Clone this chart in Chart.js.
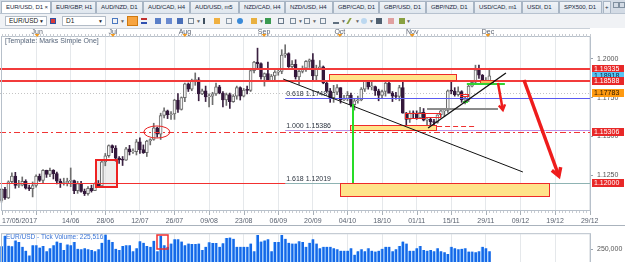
<!DOCTYPE html>
<html>
<head>
<meta charset="utf-8">
<title>EUR/USD, D1</title>
<script src="https://cdn.jsdelivr.net/npm/chart.js@4.4.1/dist/chart.umd.min.js"></script>
<style>
  body { margin: 0; width: 625px; height: 262px; overflow: hidden; background: #fff;
         font-family: "Liberation Sans", Arial, sans-serif; position: relative; }
  #tabs { position: absolute; left: 0; top: 0; width: 625px; height: 13px; background: #d3dbe5; }
  .tab { position: absolute; top: 1px; height: 12px; box-sizing: border-box; padding-left: 4px;
         font-size: 6px; line-height: 11px; color: #1a2a3e; white-space: nowrap; letter-spacing: -0.1px;
         background: linear-gradient(#f0f3f7, #dfe6ee); border: 1px solid #a8b5c4; border-bottom: none; }
  .tab.sel { background: #fff; }
  #toolbar { position: absolute; left: 0; top: 13px; width: 625px; height: 15px; background: #f0f2f5;
             border-top: 1px solid #b7c2cf; box-sizing: border-box; }
  .combo { position: absolute; top: 2px; height: 10px; box-sizing: border-box; border: 1px solid #b3bcc7;
           background: #fff; font-size: 6.5px; line-height: 8px; padding-left: 3px; color: #222; }
  .combo b { position: absolute; right: 2px; top: 0; font-size: 5px; font-weight: normal; }
  .ico { position: absolute; top: 4px; width: 6px; height: 6px; box-sizing: border-box; }
  .dd { position: absolute; top: 4px; font-size: 5px; color: #666; }
  #main { position: absolute; left: 0; top: 28px; }
  #vol { position: absolute; left: 0; top: 226px; }
</style>
</head>
<body>
<div id="tabs">
  <div class="tab sel" style="left:1px;width:50px">EUR/USD, D1 &times;</div>
  <div class="tab" style="left:51px;width:45px">EUR/GBP, H1</div>
  <div class="tab" style="left:96px;width:47px">AUD/NZD, D1</div>
  <div class="tab" style="left:143px;width:47px">AUD/CAD, H4</div>
  <div class="tab" style="left:190px;width:49px">AUD/USD, m5</div>
  <div class="tab" style="left:239px;width:46px">NZD/CAD, H4</div>
  <div class="tab" style="left:285px;width:48px">NZD/USD, H4</div>
  <div class="tab" style="left:333px;width:46px">GBP/CAD, D1</div>
  <div class="tab" style="left:379px;width:47px">GBP/USD, D1</div>
  <div class="tab" style="left:426px;width:48px">GBP/NZD, D1</div>
  <div class="tab" style="left:474px;width:48px">USD/CAD, m1</div>
  <div class="tab" style="left:522px;width:37px">USDI, D1</div>
  <div class="tab" style="left:559px;width:43px">SPX500, D1</div>
  <div class="tab" style="left:603px;width:8px;padding-left:1px">+</div>
  <div style="position:absolute;left:613px;top:2px;width:4px;height:4px;border:1px solid #8090a0"></div>
  <div style="position:absolute;left:619px;top:2px;width:4px;height:4px;border:1px solid #8090a0"></div>
</div>
<div id="toolbar">
  <div class="combo" style="left:5px;width:42px">EUR/USD<b>&#9660;</b></div>
  <div class="ico" style="left:50px;background:#d83a3a;border:1px solid #3050a0"></div>
  <div class="combo" style="left:62px;width:44px">D1<b>&#9660;</b></div>
  <div class="ico" style="left:112px;border:1px solid #4a78c0"></div><span class="dd" style="left:120px">&#9660;</span>
  <div style="position:absolute;left:127px;top:2px;width:11px;height:10px;background:#f7a440;border:1px solid #d07a10;box-sizing:border-box"></div>
  <div class="ico" style="left:141px;border-top:2px solid #c03030;border-bottom:2px solid #3050b0"></div>
  <div class="ico" style="left:155px;background:#5a7fc8"></div>
  <div class="ico" style="left:166px;background:#6a8ad0"></div>
  <div class="ico" style="left:177px;background:#4a6fb8"></div>
  <div class="ico" style="left:188px;border:1px solid #7a8a9a"></div><span class="dd" style="left:196px">&#9660;</span>
  <div class="ico" style="left:203px;border-left:2px solid #405060"></div>
  <div class="ico" style="left:214px;background:#f0b040"></div>
  <div class="ico" style="left:226px;border:1px solid #8a9aaa"></div>
  <div class="ico" style="left:237px;background:#3a8ad8;border-radius:3px"></div>
  <div class="ico" style="left:251px;background:#e8b040"></div><span class="dd" style="left:259px">&#9660;</span>
  <div class="ico" style="left:265px;background:#3a9a50"></div>
  <div class="ico" style="left:278px;border:1px solid #6a7a8a"></div>
  <div class="ico" style="left:290px;border:1px solid #7a8a9a"></div><span class="dd" style="left:298px">&#9660;</span>
  <div class="ico" style="left:304px;border:1px solid #7a8a9a"></div><span class="dd" style="left:312px">&#9660;</span>
  <div class="ico" style="left:320px;border:1px solid #7a8a9a"></div>
  <div class="ico" style="left:333px;border-bottom:2px solid #607080"></div><span class="dd" style="left:341px">&#9660;</span>
  <div class="ico" style="left:348px;border-left:2px solid #8aa040;transform:skewX(-30deg)"></div><span class="dd" style="left:355px">&#9660;</span>
  <div class="ico" style="left:361px;background:#bcd8f0;border-radius:3px"></div><span class="dd" style="left:369px">&#9660;</span>
  <div class="ico" style="left:376px;background:#506070"></div>
  <div class="ico" style="left:388px;background:#e0a0a0"></div>
  <div class="ico" style="left:399px;background:#88a040"></div><span class="dd" style="left:406px">&#9660;</span>
</div>
<canvas id="main" width="625" height="198"></canvas>
<canvas id="vol" width="625" height="50"></canvas>
<script>
Chart.defaults.font.family = '"Liberation Sans", Arial, sans-serif';

// EUR/USD daily candles, 17/05/2017 .. 30/11/2017 (index 0 .. 141)
var opens = [
  1.1087, 1.1158, 1.1102, 1.1207, 1.1243, 1.1183, 1.1185, 1.1210, 1.1165, 1.1163,
  1.1183, 1.1243, 1.1215, 1.1280, 1.1255, 1.1280, 1.1260, 1.1210, 1.1195, 1.1200,
  1.1210, 1.1215, 1.1150, 1.1195, 1.1145, 1.1130, 1.1165, 1.1150, 1.1195, 1.1180,
  1.1335, 1.1375, 1.1440, 1.1425, 1.1360, 1.1350, 1.1347, 1.1420, 1.1400, 1.1402,
  1.1465, 1.1415, 1.1395, 1.1470, 1.1480, 1.1555, 1.1515, 1.1635, 1.1665, 1.1640,
  1.1645, 1.1735, 1.1675, 1.1750, 1.1840, 1.1805, 1.1860, 1.1865, 1.1775, 1.1795,
  1.1755, 1.1760, 1.1775, 1.1820, 1.1780, 1.1735, 1.1770, 1.1725, 1.1760, 1.1815,
  1.1760, 1.1800, 1.1797, 1.1925, 1.1980, 1.1970, 1.1885, 1.1905, 1.1860, 1.1890,
  1.1915, 1.1920, 1.2025, 1.2035, 1.1950, 1.1965, 1.1885, 1.1920, 1.1940, 1.1985,
  1.1995, 1.1890, 1.1940, 1.1950, 1.1845, 1.1795, 1.1750, 1.1785, 1.1815, 1.1735,
  1.1745, 1.1765, 1.1705, 1.1730, 1.1735, 1.1805, 1.1860, 1.1820, 1.1822, 1.1795,
  1.1765, 1.1790, 1.1845, 1.1780, 1.1760, 1.1758, 1.1815, 1.1650, 1.1610, 1.1650,
  1.1645, 1.1620, 1.1655, 1.1605, 1.1610, 1.1595, 1.1590, 1.1640, 1.1665, 1.1668,
  1.1795, 1.1792, 1.1770, 1.1790, 1.1735, 1.1738, 1.1825, 1.1850, 1.1930, 1.1895,
  1.1845, 1.1848
];
var highs = [
  1.1164, 1.1171, 1.1213, 1.1264, 1.1268, 1.1216, 1.1238, 1.1220, 1.1185, 1.1206,
  1.1251, 1.1257, 1.1285, 1.1282, 1.1296, 1.1285, 1.1270, 1.1225, 1.1230, 1.1230,
  1.1296, 1.1218, 1.1210, 1.1210, 1.1160, 1.1175, 1.1185, 1.1200, 1.1215, 1.1345,
  1.1390, 1.1445, 1.1445, 1.1440, 1.1370, 1.1370, 1.1430, 1.1442, 1.1420, 1.1480,
  1.1490, 1.1445, 1.1475, 1.1485, 1.1585, 1.1560, 1.1650, 1.1685, 1.1670, 1.1660,
  1.1740, 1.1777, 1.1755, 1.1845, 1.1845, 1.1870, 1.1910, 1.1880, 1.1805, 1.1825,
  1.1775, 1.1785, 1.1845, 1.1830, 1.1790, 1.1780, 1.1780, 1.1770, 1.1825, 1.1820,
  1.1810, 1.1825, 1.1940, 1.1985, 1.2070, 1.1975, 1.1910, 1.1980, 1.1900, 1.1925,
  1.1935, 1.2060, 1.2092, 1.2040, 1.1990, 1.1995, 1.1930, 1.1955, 1.1990, 1.2000,
  1.2035, 1.1960, 1.1990, 1.1955, 1.1860, 1.1810, 1.1830, 1.1835, 1.1815, 1.1765,
  1.1790, 1.1780, 1.1745, 1.1760, 1.1815, 1.1875, 1.1880, 1.1860, 1.1825, 1.1805,
  1.1800, 1.1860, 1.1850, 1.1790, 1.1785, 1.1830, 1.1880, 1.1655, 1.1665, 1.1665,
  1.1665, 1.1688, 1.1680, 1.1615, 1.1620, 1.1610, 1.1640, 1.1670, 1.1670, 1.1800,
  1.1860, 1.1815, 1.1820, 1.1795, 1.1755, 1.1830, 1.1860, 1.1960, 1.1960, 1.1900,
  1.1880, 1.1940
];
var lows = [
  1.1075, 1.1093, 1.1098, 1.1198, 1.1165, 1.1170, 1.1180, 1.1160, 1.1150, 1.1109,
  1.1172, 1.1209, 1.1198, 1.1235, 1.1240, 1.1225, 1.1193, 1.1170, 1.1185, 1.1180,
  1.1175, 1.1130, 1.1132, 1.1140, 1.1118, 1.1120, 1.1140, 1.1150, 1.1180, 1.1175,
  1.1310, 1.1365, 1.1395, 1.1340, 1.1325, 1.1312, 1.1345, 1.1380, 1.1390, 1.1380,
  1.1390, 1.1390, 1.1370, 1.1445, 1.1475, 1.1495, 1.1480, 1.1620, 1.1615, 1.1610,
  1.1610, 1.1655, 1.1670, 1.1725, 1.1790, 1.1795, 1.1830, 1.1730, 1.1770, 1.1725,
  1.1690, 1.1705, 1.1765, 1.1775, 1.1690, 1.1700, 1.1680, 1.1720, 1.1740, 1.1735,
  1.1755, 1.1775, 1.1790, 1.1910, 1.1935, 1.1870, 1.1825, 1.1860, 1.1860, 1.1865,
  1.1895, 1.1905, 1.2010, 1.1945, 1.1935, 1.1870, 1.1835, 1.1910, 1.1920, 1.1945,
  1.1860, 1.1860, 1.1935, 1.1840, 1.1785, 1.1720, 1.1720, 1.1770, 1.1715, 1.1730,
  1.1730, 1.1690, 1.1670, 1.1715, 1.1730, 1.1790, 1.1805, 1.1800, 1.1765, 1.1730,
  1.1750, 1.1760, 1.1780, 1.1725, 1.1740, 1.1730, 1.1650, 1.1575, 1.1590, 1.1620,
  1.1610, 1.1620, 1.1600, 1.1570, 1.1555, 1.1575, 1.1585, 1.1625, 1.1630, 1.1655,
  1.1775, 1.1760, 1.1760, 1.1720, 1.1710, 1.1725, 1.1820, 1.1845, 1.1875, 1.1840,
  1.1835, 1.1835
];
var closes = [
  1.1158, 1.1102, 1.1207, 1.1243, 1.1183, 1.1185, 1.1210, 1.1165, 1.1163, 1.1183,
  1.1243, 1.1215, 1.1280, 1.1255, 1.1280, 1.1260, 1.1210, 1.1195, 1.1200, 1.1210,
  1.1215, 1.1150, 1.1195, 1.1145, 1.1130, 1.1165, 1.1150, 1.1195, 1.1180, 1.1335,
  1.1375, 1.1440, 1.1425, 1.1360, 1.1350, 1.1347, 1.1420, 1.1400, 1.1402, 1.1465,
  1.1415, 1.1395, 1.1470, 1.1480, 1.1555, 1.1515, 1.1635, 1.1665, 1.1640, 1.1645,
  1.1735, 1.1675, 1.1750, 1.1840, 1.1805, 1.1860, 1.1865, 1.1775, 1.1795, 1.1755,
  1.1760, 1.1775, 1.1820, 1.1780, 1.1735, 1.1770, 1.1725, 1.1760, 1.1815, 1.1760,
  1.1800, 1.1797, 1.1925, 1.1980, 1.1970, 1.1885, 1.1905, 1.1860, 1.1890, 1.1915,
  1.1920, 1.2025, 1.2035, 1.1950, 1.1965, 1.1885, 1.1920, 1.1940, 1.1985, 1.1995,
  1.1890, 1.1940, 1.1950, 1.1845, 1.1795, 1.1750, 1.1785, 1.1815, 1.1735, 1.1745,
  1.1765, 1.1705, 1.1730, 1.1735, 1.1805, 1.1860, 1.1820, 1.1822, 1.1795, 1.1765,
  1.1790, 1.1845, 1.1780, 1.1760, 1.1758, 1.1815, 1.1650, 1.1610, 1.1650, 1.1645,
  1.1620, 1.1655, 1.1605, 1.1610, 1.1595, 1.1590, 1.1640, 1.1665, 1.1668, 1.1795,
  1.1792, 1.1770, 1.1790, 1.1735, 1.1738, 1.1825, 1.1850, 1.1930, 1.1895, 1.1845,
  1.1848, 1.18918
];
var volumes = [
  294000, 440000, 303000, 294000, 375000, 352000, 287000, 235000, 170000, 310000,
  310000, 277000, 300000, 228000, 268000, 310000, 359000, 343000, 245000, 320000,
  310000, 352000, 261000, 255000, 268000, 255000, 245000, 228000, 255000, 343000,
  457000, 385000, 352000, 261000, 245000, 300000, 310000, 310000, 228000, 268000,
  365000, 343000, 300000, 287000, 369000, 228000, 440000, 310000, 287000, 333000,
  392000, 392000, 359000, 310000, 333000, 326000, 326000, 333000, 245000, 287000,
  349000, 339000, 339000, 287000, 336000, 408000, 414000, 398000, 287000, 287000,
  287000, 287000, 333000, 228000, 450000, 359000, 375000, 392000, 228000, 352000,
  352000, 450000, 398000, 343000, 333000, 333000, 365000, 352000, 287000, 343000,
  392000, 333000, 268000, 287000, 287000, 287000, 268000, 255000, 235000, 235000,
  235000, 268000, 180000, 228000, 255000, 228000, 268000, 235000, 222000, 235000,
  261000, 287000, 287000, 228000, 255000, 300000, 359000, 333000, 235000, 235000,
  268000, 300000, 245000, 235000, 245000, 228000, 268000, 228000, 212000, 189000,
  287000, 268000, 255000, 261000, 268000, 222000, 222000, 212000, 228000, 287000,
  268000, 225516
];

// axis labels
var dateTickIdx = [0, 10, 20, 30, 40, 50, 60, 70, 80, 90, 100, 110, 120, 130, 140, 150, 160, 170];
var dateTickText = ['17/05/2017', '', '14/06', '28/06', '12/07', '26/07', '09/08', '23/08', '06/09',
                    '20/09', '04/10', '18/10', '01/11', '15/11', '29/11', '09/12', '19/12', '29/12'];
var monthPos = [10.3, 32.2, 53.0, 75.9, 97.8, 118.7, 140.6];
var monthText = ['Jun', 'Jul', 'Aug', 'Sep', 'Oct', 'Nov', 'Dec'];
var priceTicks = [1.1250, 1.1500, 1.1750, 1.2000];
var volumeTicks = [250000];
var tickVolumeNow = '225,516';

// drawn objects (index, price)
var resistanceLevels = [1.19335, 1.18588];
var supportLevel = 1.15306;
var targetLevel = 1.12000;
var pendingLevel = 1.17783;
var lastPrice = 1.18918;
var fibStart = 82;
var fibRatios = ['0.618', '1.000', '1.618'];
var fibPrices = [1.17487, 1.15386, 1.12019];
var zones = [[94.7, 131.7, 1.1903, 1.1860], [100.7, 125.9, 1.15736, 1.15317], [97.8, 158.5, 1.1199, 1.11085]];
var breakoutBox = [27.3, 33.4, 1.13475, 1.11731];
var lowBoxes = [[116.6, 122.4, 1.1650, 1.1619], [122.4, 126.7, 1.1650, 1.1622], [132.5, 134.8, 1.1774, 1.1761]];
var entryBox = [138.3, 142.0, 1.1864, 1.1839];
var trendLines = [[81.4, 1.18708, 150.7, 1.12700], [123.3, 1.15543, 145.8, 1.19096]];
var neckLine = [123.0, 143.5, 1.1677];
var stopLine = [125.9, 137.4, 1.15672];
var greenLines = [[134.5, 145.5, 1.18385], [133.4, 134.8, 1.17222]];
var timeLine = [101.6, 1.17093, 1.1199];
var arrows = [[143.5, 1.1845, 144.9, 1.16706], [151.0, 1.18643, 161.1, 1.12442]];
var ellipseMark = [44.9, 1.15284, 3.76, 0.0039];
var volumeMark = [44.9, 48.1, 264000, 455000];

var xMin = -0.434, xMax = 170.1;
var font7 = '7px "Liberation Sans", Arial, sans-serif';

function X(c, i) { return c.scales.x.getPixelForValue(i); }
function Y(c, p) { return c.scales.y.getPixelForValue(p); }

function clipArea(ctx, a) {
    ctx.beginPath();
    ctx.rect(a.left, a.top, a.right - a.left, a.bottom - a.top);
    ctx.clip();
}

function line(ctx, x0, y0, x1, y1, color, w, dash) {
    ctx.beginPath();
    ctx.setLineDash(dash || []);
    ctx.strokeStyle = color;
    ctx.lineWidth = w;
    ctx.moveTo(x0, y0);
    ctx.lineTo(x1, y1);
    ctx.stroke();
    ctx.setLineDash([]);
}

function hline(c, i0, i1, p, color, w, dash) {
    var y = Math.round(Y(c, p)) + (w % 2 ? 0.5 : 0);
    line(c.ctx, X(c, i0), y, X(c, i1), y, color, w, dash);
}

function rectOf(c, b) {
    var x0 = X(c, b[0]), x1 = X(c, b[1]);
    var y0 = Y(c, Math.max(b[2], b[3])), y1 = Y(c, Math.min(b[2], b[3]));
    return { x: Math.round(x0), y: Math.round(y0), w: Math.round(x1 - x0), h: Math.round(y1 - y0) };
}

function arrowHead(ctx, x0, y0, x1, y1, size, color, w) {
    var a = Math.atan2(y1 - y0, x1 - x0);
    ctx.beginPath();
    ctx.strokeStyle = color;
    ctx.lineWidth = w;
    ctx.moveTo(x1 - size * Math.cos(a - 0.55), y1 - size * Math.sin(a - 0.55));
    ctx.lineTo(x1, y1);
    ctx.lineTo(x1 - size * Math.cos(a + 0.55), y1 - size * Math.sin(a + 0.55));
    ctx.stroke();
}

var mainDecor = {
    id: 'mainDecor',
    beforeDatasetsDraw: function (c) {
        var ctx = c.ctx, a = c.chartArea;
        ctx.save();
        clipArea(ctx, a);
        // pending order level, dotted
        hline(c, xMin, xMax, pendingLevel, '#c4c4c4', 1, [1, 2]);
        // breakout candle shading
        var r = rectOf(c, breakoutBox);
        ctx.fillStyle = 'rgba(225,225,225,0.6)';
        ctx.fillRect(r.x, r.y, r.w, r.h);
        ctx.restore();
    },
    afterDatasetsDraw: function (c) {
        var ctx = c.ctx, a = c.chartArea;
        ctx.save();
        clipArea(ctx, a);

        // horizontal levels
        resistanceLevels.forEach(function (p) { hline(c, xMin, xMax, p, '#f23b3b', 2); });
        hline(c, xMin, xMax, supportLevel, '#f03535', 1, [6, 3, 2, 3]);
        hline(c, xMin, xMax, targetLevel, '#f23030', 1);

        // fibonacci levels
        var fibColors = ['#5a5af2', '#bf8fe6', '#8fb3b3'];
        fibPrices.forEach(function (p, k) { hline(c, fibStart, xMax, p, fibColors[k], 1); });

        // yellow zones
        zones.forEach(function (z) {
            var r = rectOf(c, z);
            ctx.fillStyle = '#ffe38a';
            ctx.fillRect(r.x, r.y, r.w, r.h);
            ctx.strokeStyle = '#ee2a2a';
            ctx.lineWidth = 1;
            ctx.strokeRect(r.x + 0.5, r.y + 0.5, r.w - 1, r.h - 1);
        });

        // breakout box outline
        var r = rectOf(c, breakoutBox);
        ctx.strokeStyle = '#ee2222';
        ctx.lineWidth = 2;
        ctx.strokeRect(r.x, r.y, r.w, r.h);

        // small boxes at the lows
        lowBoxes.forEach(function (b) {
            var q = rectOf(c, b);
            ctx.strokeStyle = '#ee2a2a';
            ctx.lineWidth = 1;
            ctx.strokeRect(q.x + 0.5, q.y + 0.5, q.w, Math.max(q.h, 2));
        });
        var e = rectOf(c, entryBox);
        ctx.fillStyle = '#ffb25a';
        ctx.fillRect(e.x, e.y, e.w, e.h);
        ctx.strokeStyle = '#e83030';
        ctx.strokeRect(e.x + 0.5, e.y + 0.5, e.w, e.h);

        // short horizontal marks
        hline(c, neckLine[0], neckLine[1], neckLine[2], '#8c8c8c', 2);
        hline(c, stopLine[0], stopLine[1], stopLine[2], '#ee3030', 1, [5, 3]);
        greenLines.forEach(function (g) { hline(c, g[0], g[1], g[2], '#32d232', 2); });

        // trend lines
        trendLines.forEach(function (t, k) {
            line(ctx, X(c, t[0]), Y(c, t[1]), X(c, t[2]), Y(c, t[3]), '#111', k ? 1.3 : 1);
        });

        // green vertical
        var gx = Math.round(X(c, timeLine[0]));
        line(ctx, gx, Y(c, timeLine[1]), gx, Y(c, timeLine[2]), '#28dc28', 2);

        // arrows
        arrows.forEach(function (ar, k) {
            var x0 = X(c, ar[0]), y0 = Y(c, ar[1]), x1 = X(c, ar[2]), y1 = Y(c, ar[3]);
            var w = k ? 3.5 : 2.5;
            line(ctx, x0, y0, x1, y1, '#ee1c1c', w);
            arrowHead(ctx, x0, y0, x1, y1, k ? 9 : 6, '#ee1c1c', w);
        });

        // ellipse around the breakout retest
        ctx.beginPath();
        ctx.strokeStyle = '#e82020';
        ctx.lineWidth = 1;
        var ex = X(c, ellipseMark[0]), ey = Y(c, ellipseMark[1]);
        var rx = X(c, ellipseMark[0] + ellipseMark[2]) - ex;
        var ry = Y(c, ellipseMark[1] - ellipseMark[3]) - ey;
        ctx.ellipse(ex, ey, rx, ry, 0, 0, Math.PI * 2);
        ctx.stroke();

        // fib labels
        ctx.font = font7;
        ctx.fillStyle = '#2c3440';
        ctx.textBaseline = 'bottom';
        ctx.textAlign = 'left';
        fibPrices.forEach(function (p, k) {
            ctx.fillText(fibRatios[k] + ' ' + p.toFixed(5), X(c, fibStart) + 1, Math.round(Y(c, p)) - 0.5);
        });

        // template caption
        ctx.fillStyle = '#56657a';
        ctx.textBaseline = 'top';
        ctx.fillText('[Template: Marks Simple One]', a.left + 5, a.top + 1);
        ctx.restore();
    },
    afterDraw: function (c) {
        var ctx = c.ctx, a = c.chartArea;
        ctx.save();
        // frame
        ctx.strokeStyle = '#b7c0ca';
        ctx.lineWidth = 1;
        ctx.strokeRect(a.left + 1.5, a.top - 0.5, a.right - a.left - 1, a.bottom - a.top + 1);
        line(ctx, 0, 0.5, a.right, 0.5, '#c9d0d8', 1);

        // ruler ticks, month labels
        for (var i = 0; i <= 170; i++) {
            var tx = Math.round(X(c, i)) + 0.5;
            line(ctx, tx, a.top - 3, tx, a.top, '#c8ccd2', 1);
            line(ctx, tx, a.bottom + 1, tx, a.bottom + 3, '#c8ccd2', 1);
        }
        dateTickIdx.forEach(function (v) {
            var tx = Math.round(X(c, v)) + 0.5;
            line(ctx, tx, a.bottom + 1, tx, a.bottom + 5, '#a8b0b8', 1);
        });
        ctx.font = font7;
        ctx.fillStyle = '#5a6270';
        ctx.textBaseline = 'middle';
        monthPos.forEach(function (v, k) {
            var mx = X(c, v);
            ctx.textAlign = 'center';
            ctx.fillText(monthText[k], mx, 4);
            ctx.beginPath();
            ctx.fillStyle = '#f39a1e';
            ctx.moveTo(mx - 2.5, a.top - 3);
            ctx.lineTo(mx + 2.5, a.top - 3);
            ctx.lineTo(mx, a.top);
            ctx.fill();
            ctx.fillStyle = '#5a6270';
        });

        // date labels
        dateTickIdx.forEach(function (v, k) {
            if (!dateTickText[k]) return;
            ctx.textAlign = k === 0 ? 'left' : 'center';
            ctx.fillText(dateTickText[k], k === 0 ? a.left + 2 : X(c, v), a.bottom + 11);
        });
        line(ctx, 0, c.height - 0.5, c.width, c.height - 0.5, '#aab3bd', 1);

        // price tags on the axis
        var tags = [
            [resistanceLevels[0], '#e82828', '#fff'],
            [lastPrice, '#58c4f2', '#0b2340'],
            [resistanceLevels[1], '#e82828', '#fff'],
            [pendingLevel, '#ff9a10', '#2a1800'],
            [supportLevel, '#e82828', '#fff'],
            [targetLevel, '#e82828', '#fff']
        ];
        ctx.textAlign = 'left';
        tags.forEach(function (t) {
            var ty = Math.round(Y(c, t[0]));
            ctx.fillStyle = t[1];
            ctx.fillRect(a.right + 2, ty - 4, 32, 8);
            ctx.fillStyle = t[2];
            ctx.fillText(t[0].toFixed(5), a.right + 4, ty + 0.5);
        });
        ctx.restore();
    }
};

var volDecor = {
    id: 'volDecor',
    afterDraw: function (c) {
        var ctx = c.ctx, a = c.chartArea;
        ctx.save();
        ctx.strokeStyle = '#b7c0ca';
        ctx.lineWidth = 1;
        ctx.strokeRect(a.left + 1.5, a.top - 0.5, a.right - a.left - 1, a.bottom - a.top + 2);
        var x0 = Math.round(X(c, volumeMark[0])), x1 = Math.round(X(c, volumeMark[1]));
        var y0 = Math.round(Y(c, volumeMark[3])), y1 = Math.round(Y(c, volumeMark[2]));
        ctx.strokeStyle = '#ee3030';
        ctx.lineWidth = 1.5;
        ctx.strokeRect(x0, y0, x1 - x0, y1 - y0);
        ctx.font = '6.5px "Liberation Sans", Arial, sans-serif';
        ctx.fillStyle = '#3a74d6';
        ctx.textBaseline = 'top';
        ctx.fillText('EUR/USD - Tick Volume: ' + tickVolumeNow, a.left + 6, a.top);
        ctx.restore();
    }
};

var wickData = highs.map(function (h, i) { return { x: i, y: [lows[i], h] }; });
var bodyData = opens.map(function (o, i) { return { x: i, y: [o, closes[i]] }; });
var volData = volumes.map(function (v, i) { return { x: i, y: v }; });

function isBull(i) { return closes[i] >= opens[i]; }

var xAxis = {
    type: 'linear', min: xMin, max: xMax, position: 'bottom', offset: false,
    afterBuildTicks: function (s) { s.ticks = dateTickIdx.map(function (v) { return { value: v }; }); },
    ticks: { display: false },
    grid: { color: '#e5e8eb', drawTicks: false, offset: false },
    border: { display: false }
};

new Chart(document.getElementById('main'), {
    type: 'bar',
    data: {
        datasets: [{
            label: 'wick',
            data: wickData,
            grouped: false,
            barThickness: 1,
            order: 2,
            backgroundColor: function (ctx) { return isBull(ctx.dataIndex) ? '#6e6e6e' : '#3a2040'; }
        }, {
            label: 'body',
            data: bodyData,
            grouped: false,
            barThickness: 3,
            minBarLength: 1,
            order: 1,
            borderWidth: 1,
            borderSkipped: false,
            backgroundColor: function (ctx) { return isBull(ctx.dataIndex) ? '#f6f6f6' : '#34183c'; },
            borderColor: function (ctx) { return isBull(ctx.dataIndex) ? '#6a6a6a' : '#34183c'; }
        }]
    },
    options: {
        responsive: false,
        animation: false,
        events: [],
        layout: { padding: { top: 9, left: 0, right: 0, bottom: 0 } },
        plugins: { legend: { display: false }, tooltip: { enabled: false } },
        scales: {
            x: Object.assign({}, xAxis, { afterFit: function (s) { s.height = 16; } }),
            y: {
                position: 'right', min: 1.10245, max: 1.21421,
                afterBuildTicks: function (s) { s.ticks = priceTicks.map(function (v) { return { value: v }; }); },
                afterFit: function (s) { s.width = 35; },
                ticks: { font: { size: 7 }, color: '#555', padding: 4, callback: function (v) { return v.toFixed(4); } },
                grid: { drawOnChartArea: false, tickLength: 3, color: '#9aa3ad' },
                border: { color: '#9aa3ad' }
            }
        }
    },
    plugins: [mainDecor]
});

new Chart(document.getElementById('vol'), {
    type: 'bar',
    data: {
        datasets: [{
            label: 'Tick Volume',
            data: volData,
            barThickness: 3,
            backgroundColor: '#1468e8',
            borderColor: '#86c2ff',
            borderWidth: { left: 1, right: 0, top: 0, bottom: 0 },
            borderSkipped: false
        }]
    },
    options: {
        responsive: false,
        animation: false,
        events: [],
        layout: { padding: { top: 3, left: 0, right: 0, bottom: 0 } },
        plugins: { legend: { display: false }, tooltip: { enabled: false } },
        scales: {
            x: Object.assign({}, xAxis, { afterFit: function (s) { s.height = 0; } }),
            y: {
                position: 'right', min: 0, max: 460000,
                afterBuildTicks: function (s) { s.ticks = volumeTicks.map(function (v) { return { value: v }; }); },
                afterFit: function (s) { s.width = 35; },
                ticks: { font: { size: 7 }, color: '#555', padding: 4, callback: function (v) { return v.toLocaleString('en-US'); } },
                grid: { drawOnChartArea: false, tickLength: 3, color: '#9aa3ad' },
                border: { color: '#9aa3ad' }
            }
        }
    },
    plugins: [volDecor]
});
</script>
</body>
</html>
